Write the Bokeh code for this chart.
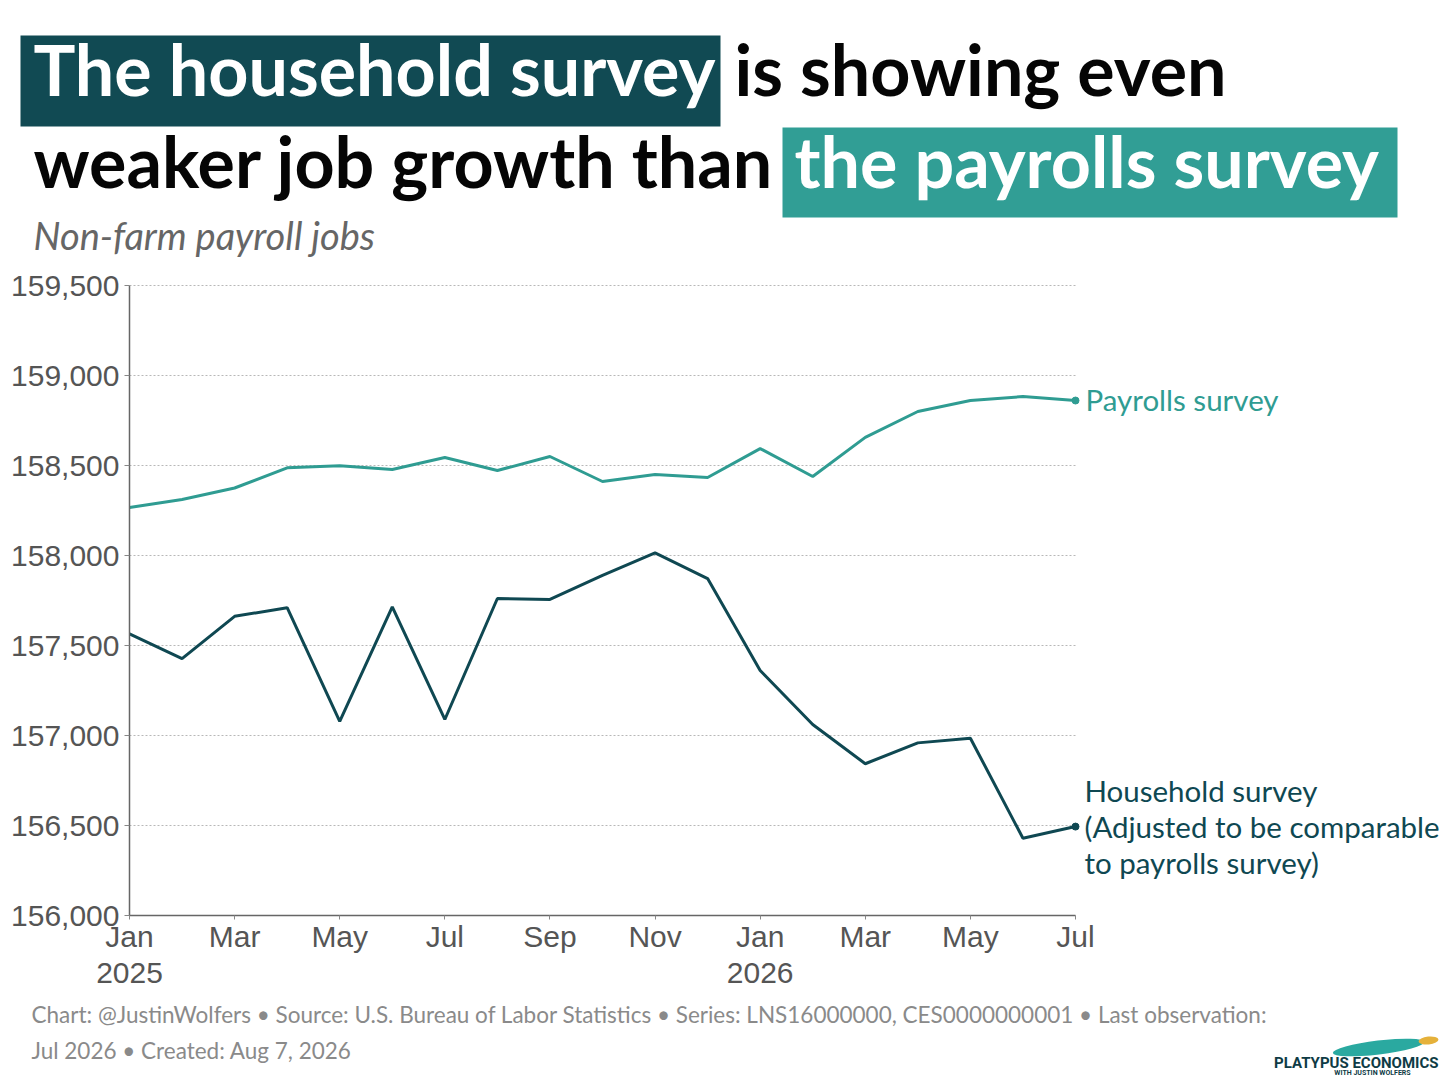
from bokeh.plotting import figure
from bokeh.models import Label, LinearAxis, FixedTicker, NumeralTickFormatter
from bokeh.embed import file_html
from bokeh.resources import INLINE

# months since Jan 2025
months = list(range(19))
tick_months = [0, 2, 4, 6, 8, 10, 12, 14, 16, 18]
tick_labels = ["Jan\n2025", "Mar", "May", "Jul", "Sep", "Nov",
               "Jan\n2026", "Mar", "May", "Jul"]
y_ticks = [156000, 156500, 157000, 157500, 158000, 158500, 159000, 159500]

# thousands of jobs
payrolls = [158267, 158311, 158375, 158487, 158499, 158478, 158544, 158472,
            158550, 158411, 158450, 158433, 158594, 158439, 158656, 158800,
            158861, 158883, 158861]
household = [157564, 157427, 157662, 157710, 157078, 157715, 157089, 157761,
             157756, 157889, 158015, 157872, 157361, 157061, 156843, 156959,
             156985, 156429, 156494]

DARK = "#0f4852"
TEAL = "#2f9c92"
BOX_DARK = "#114a53"
BOX_TEAL = "#319e95"
W, H = 1440, 1076
Y_LO, Y_HI = y_ticks[0], y_ticks[-1]

# plot area on the page: Jan 2025 at x=129, Jul 2026 at x=1075, 159,500 at y=285, 156,000 at y=915
PXM = (1075 - 129) / (months[-1] - months[0])
PXY = (915 - 285) / (Y_HI - Y_LO)


def X(px):
    return (px - 129) / PXM


def Y(py):
    return Y_HI - (py - 285) / PXY


p = figure(width=W, height=H, x_range=(X(0), X(W)), y_range=(Y(H), Y(0)),
           x_axis_type=None, y_axis_type=None, output_backend="svg",
           toolbar_location=None, min_border=0)
p.outline_line_color = None
p.grid.visible = False

# dotted gridlines across the data span
p.segment(x0=[months[0]] * len(y_ticks), x1=[months[-1]] * len(y_ticks),
          y0=y_ticks, y1=y_ticks, line_color="#b8b8b8", line_width=1,
          line_dash="2 2")

p.line(months, payrolls, line_color=TEAL, line_width=3)
p.line(months, household, line_color=DARK, line_width=3)
p.scatter([months[-1]], [payrolls[-1]], size=7, color=TEAL)
p.scatter([months[-1]], [household[-1]], size=7, color=DARK)

xaxis = LinearAxis(fixed_location=Y_LO, bounds=(months[0], months[-1]),
                   ticker=FixedTicker(ticks=tick_months),
                   major_label_overrides={m: t for m, t in zip(tick_months, tick_labels)},
                   major_label_standoff=0)
yaxis = LinearAxis(fixed_location=months[0], bounds=(Y_LO, Y_HI),
                   ticker=FixedTicker(ticks=y_ticks),
                   formatter=NumeralTickFormatter(format="0,0"),
                   major_label_standoff=5)
for ax in (xaxis, yaxis):
    ax.axis_line_color = "#666666"
    ax.axis_line_width = 1.5
    ax.major_tick_line_color = "#888888"
    ax.major_tick_in = 0
    ax.major_tick_out = 5
    ax.minor_tick_line_color = None
    ax.major_label_text_font = "Liberation Sans"
    ax.major_label_text_font_size = "30px"
    ax.major_label_text_color = "#555555"
xaxis.major_tick_out = 4
xaxis.major_label_text_line_height = 1.1
p.add_layout(xaxis, "below")
p.add_layout(yaxis, "left")


def label(px, base, text, size, color, style="normal", font="Lato", align="left"):
    # base = page y of the text baseline
    p.add_layout(Label(x=X(px), y=Y(base - 0.38 * size), text=text, text_font=font,
                       text_font_size=f"{size}px", text_font_style=style,
                       text_color=color, text_align=align,
                       text_baseline="alphabetic"))


# title
p.quad(left=[X(20), X(782)], right=[X(720), X(1397)], top=[Y(35), Y(127)],
       bottom=[Y(126), Y(217)], color=[BOX_DARK, BOX_TEAL], line_color=None)
label(33, 95, "The household survey", 70, "white", "bold")
label(734, 95, "is showing even", 70, "#050505", "bold")
label(33, 187, "weaker job growth than", 70, "#050505", "bold")
label(794, 187, "the payrolls survey", 70, "white", "bold")
label(33, 249, "Non-farm payroll jobs", 38, "#666666", "italic")

# series labels
label(1085, 410, "Payrolls survey", 29.5, TEAL)
label(1084, 801, "Household survey", 29.5, DARK)
label(1084, 837, "(Adjusted to be comparable", 29.5, DARK)
label(1084, 873, "to payrolls survey)", 29.5, DARK)

# footer
label(31, 1023, "Chart: @JustinWolfers \u2022 Source: U.S. Bureau of Labor Statistics \u2022 "
      "Series: LNS16000000, CES0000000001 \u2022 Last observation:", 22.5, "#8a8a8a")
label(31, 1059, "Jul 2026 \u2022 Created: Aug 7, 2026", 22.5, "#8a8a8a")

# logo
p.ellipse(x=[X(1378)], y=[Y(1047)], width=[92], height=[14], angle=[0.12],
          width_units="screen", height_units="screen", color="#2aa9a0", line_color=None)
p.ellipse(x=[X(1428)], y=[Y(1040)], width=[20], height=[8], angle=[0.1],
          width_units="screen", height_units="screen", color="#e5b13a", line_color=None)
label(1438, 1068, "PLATYPUS ECONOMICS", 15, "#0e3b45", "bold", font="Roboto", align="right")
label(1372, 1075, "WITH JUSTIN WOLFERS", 7, "#0e3b45", "bold", font="Roboto", align="center")

open("out.html", "w").write(file_html(p, INLINE))
